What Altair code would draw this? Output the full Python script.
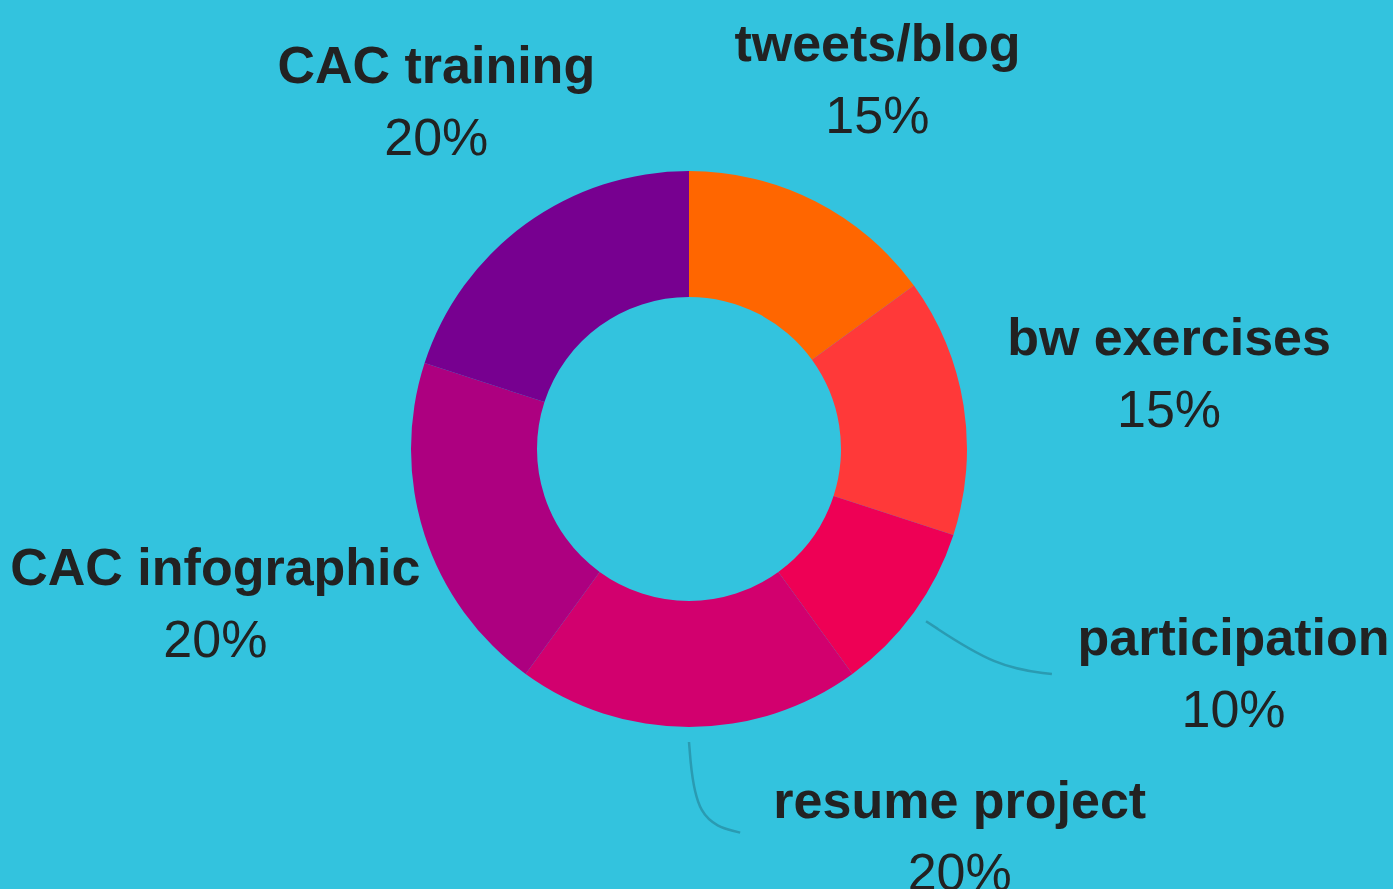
import math
import altair as alt
import pandas as pd

# ---- data ----
categories = ["tweets/blog", "bw exercises", "participation", "resume project",
              "CAC infographic", "CAC training"]
values = [15, 15, 10, 20, 20, 20]
colors = ["#FF6600", "#FF3939", "#EE0055", "#D2006E", "#AD0080", "#770090"]

# ---- layout ----
W, H = 1393, 889
CX, CY = 689, 449
R_IN, R_OUT = 152, 278
FONT = "Liberation Sans"
FS = 52
TEXT_COLOR = "#222222"
LEADER_COLOR = "#2A9BB2"
BG = "#33C3DE"

# label anchor: radial distance from centre, angular shift (deg) from slice middle
label_radius = {"tweets/blog": 415, "bw exercises": 486, "participation": 589,
                "resume project": 472, "CAC infographic": 498, "CAC training": 430}
label_shift = {"participation": -13.6, "resume project": -35.0}
# leader lines: end point as (angle deg, radius) around the centre
leader_end = {"participation": (121.8, 427), "resume project": (172.4, 387)}
LEADER_GAP = 15

total = sum(values)
mids, acc = [], 0
for v in values:
    mids.append((acc + v / 2) / total * 360)
    acc += v


def polar(angle, r):
    a = math.radians(angle)
    return CX + r * math.sin(a), CY - r * math.cos(a)


arc_df = pd.DataFrame({"category": categories, "value": values,
                       "idx": list(range(len(categories)))})

rows = []
for c, v, m in zip(categories, values, mids):
    ang = m + label_shift.get(c, 0)
    x, y = polar(ang, label_radius[c])
    pct = f"{round(v / total * 100)}%"
    rows.append({"x": x, "y": y - 18, "text": c, "kind": "name"})
    rows.append({"x": x, "y": y + 54, "text": pct, "kind": "pct"})
lab_df = pd.DataFrame(rows)

lrows = []
for c, m in zip(categories, mids):
    if c not in leader_end:
        continue
    p0 = polar(m, R_OUT + LEADER_GAP)
    p2 = polar(*leader_end[c])
    a = math.radians(m)
    dx, dy = math.sin(a), -math.cos(a)
    t = (p2[1] - p0[1]) / dy
    ctrl = (p0[0] + t * dx, p0[1] + t * dy)
    p1 = ((p0[0] + p2[0]) / 8 + 0.75 * ctrl[0], (p0[1] + p2[1]) / 8 + 0.75 * ctrl[1])
    for s, p in enumerate([p0, p1, p2]):
        lrows.append({"category": c, "seq": s, "x": p[0], "y": p[1]})
lead_df = pd.DataFrame(lrows)

arcs = alt.Chart(arc_df).mark_arc(innerRadius=R_IN, outerRadius=R_OUT, stroke=None).encode(
    theta=alt.Theta("value:Q", stack=True),
    color=alt.Color("category:N", scale=alt.Scale(domain=categories, range=colors), legend=None),
    order=alt.Order("idx:Q"),
    x=alt.value(CX),
    y=alt.value(CY),
)

names = alt.Chart(lab_df).transform_filter(alt.datum.kind == "name").mark_text(
    font=FONT, fontSize=FS, fontWeight="bold", color=TEXT_COLOR,
    align="center", baseline="alphabetic"
).encode(
    x=alt.X("x:Q", scale=None), y=alt.Y("y:Q", scale=None), text="text:N"
)

pcts = alt.Chart(lab_df).transform_filter(alt.datum.kind == "pct").mark_text(
    font=FONT, fontSize=FS, fontWeight="normal", color=TEXT_COLOR,
    align="center", baseline="alphabetic"
).encode(
    x=alt.X("x:Q", scale=None), y=alt.Y("y:Q", scale=None), text="text:N"
)

leaders = alt.Chart(lead_df).mark_line(
    interpolate="basis", color=LEADER_COLOR, strokeWidth=2.5
).encode(
    x=alt.X("x:Q", scale=None), y=alt.Y("y:Q", scale=None),
    detail="category:N", order=alt.Order("seq:Q")
)

chart = alt.layer(arcs, leaders, names, pcts).properties(
    width=W, height=H, padding=0,
    autosize=alt.AutoSizeParams(type="none"),
    background=BG,
).configure_view(stroke=None)

chart.save("out.html", embed_options={"renderer": "svg", "actions": False})
